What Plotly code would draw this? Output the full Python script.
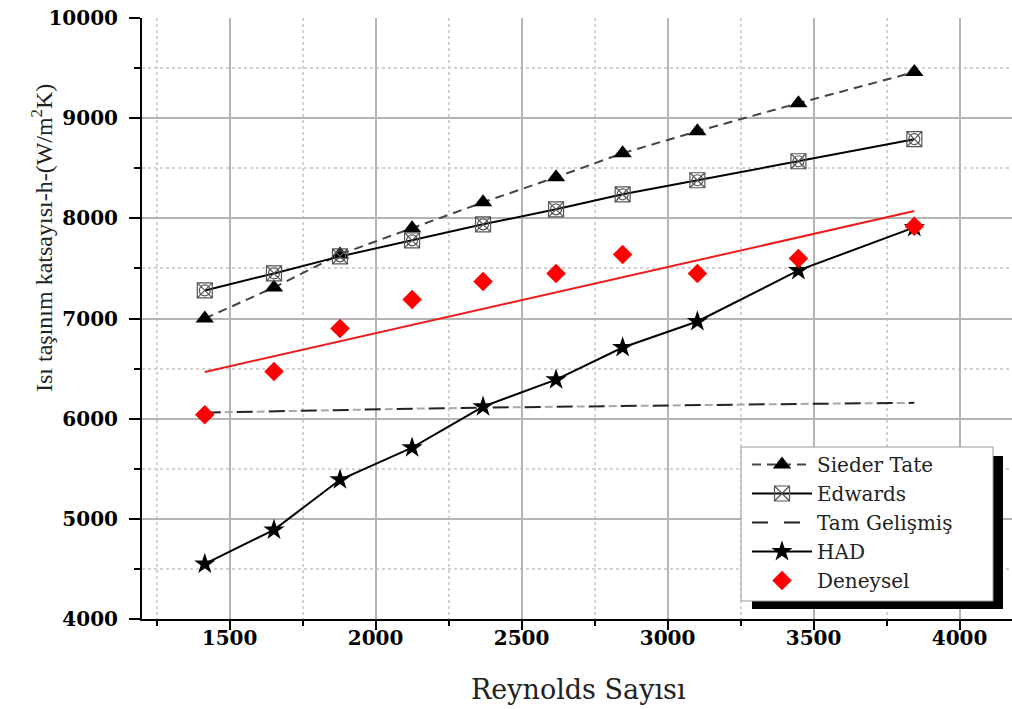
import numpy as np
import plotly.graph_objects as go

# Reynolds numbers of the measurement points
reynolds = [1415, 1652, 1878, 2125, 2368, 2618, 2846, 3102, 3448, 3845]

# Heat transfer coefficient h (W/m2K) for each correlation / method
sieder_tate = [7000, 7310, 7640, 7900, 8160, 8410, 8650, 8870, 9150, 9460]
edwards = [7280, 7450, 7620, 7780, 7940, 8090, 8240, 8380, 8570, 8790]
tam_gelismis = [6060, 6075, 6088, 6100, 6110, 6120, 6128, 6137, 6147, 6158]
had = [4550, 4890, 5390, 5710, 6120, 6390, 6710, 6970, 7480, 7910]
deneysel = [6040, 6470, 6900, 7190, 7370, 7450, 7640, 7450, 7600, 7920]

x_ticks = [1500, 2000, 2500, 3000, 3500, 4000]
x_tick_text = ["1500", "2000", "2500", "3000", "3500", "4000"]
y_ticks = [4000, 5000, 6000, 7000, 8000, 9000, 10000]
y_tick_text = ["4000", "5000", "6000", "7000", "8000", "9000", "10000"]

SERIF = "Liberation Serif"
WIDE_SERIF = "DejaVu Serif"

# Linear trend through the experimental points
slope, intercept = np.polyfit(reynolds, deneysel, 1)
trend_x = [reynolds[0], reynolds[-1]]
trend_y = [slope * v + intercept for v in trend_x]

fig = go.Figure()

fig.add_trace(go.Scatter(
    x=reynolds, y=sieder_tate, name="Sieder Tate", mode="lines+markers",
    line=dict(color="#444444", width=2, dash="9px,6px"),
    marker=dict(symbol="triangle-up", size=16, color="black"),
))

# Edwards: square with a circle and cross inside
fig.add_trace(go.Scatter(
    x=reynolds, y=edwards, name="Edwards", mode="lines+markers",
    line=dict(color="black", width=2),
    marker=dict(symbol="square-x-open", size=15, color="#555555",
                line=dict(width=1.2, color="#555555")),
))
fig.add_trace(go.Scatter(
    x=reynolds, y=edwards, mode="markers", showlegend=False, hoverinfo="skip",
    marker=dict(symbol="circle-open", size=11, color="#555555",
                line=dict(width=1.2, color="#555555")),
))

# Tam Gelişmiş: long dark dashes with a light short dash between them
fig.add_trace(go.Scatter(
    x=reynolds, y=tam_gelismis, mode="lines", showlegend=False, hoverinfo="skip",
    line=dict(color="#a8a8a8", width=2, dash="0px,20px,8px,4px"),
))
fig.add_trace(go.Scatter(
    x=reynolds, y=tam_gelismis, name="Tam Gelişmiş", mode="lines",
    line=dict(color="#222222", width=2, dash="16px,16px"),
))

fig.add_trace(go.Scatter(
    x=reynolds, y=had, name="HAD", mode="lines+markers",
    line=dict(color="black", width=2),
    marker=dict(symbol="star", size=16, color="black"),
))

fig.add_trace(go.Scatter(
    x=trend_x, y=trend_y, mode="lines", showlegend=False, hoverinfo="skip",
    line=dict(color="#ee1c1c", width=2),
))

fig.add_trace(go.Scatter(
    x=reynolds, y=deneysel, name="Deneysel", mode="markers",
    marker=dict(symbol="diamond", size=15, color="#ff0000"),
))

# Plot-area geometry (pixels) used to place the legend frame
L, T, W, H = 142, 18, 870, 601


def px(xp):
    return (xp - L) / W


def py(yp):
    return (T + H - yp) / H


shapes = [
    # drop shadow of the legend frame
    dict(type="rect", xref="paper", yref="paper", layer="above",
         x0=px(752), x1=px(1003), y0=py(609), y1=py(456),
         fillcolor="black", line=dict(width=0)),
    # legend frame
    dict(type="rect", xref="paper", yref="paper", layer="above",
         x0=px(741), x1=px(993), y0=py(601), y1=py(447),
         fillcolor="white", line=dict(color="#9a9a9a", width=1)),
]

annotations = [
    dict(text="Reynolds Sayısı", xref="paper", yref="paper",
         x=px(578), y=py(690), xanchor="center", yanchor="middle",
         showarrow=False, font=dict(family=WIDE_SERIF, size=27, color="#222222")),
    dict(text="Isı taşınım katsayısı-h-(W/m<sup>2</sup>K)", xref="paper", yref="paper",
         x=px(42), y=py(238), xanchor="center", yanchor="middle", textangle=-90,
         showarrow=False, font=dict(family=SERIF, size=24, color="#222222")),
]

tick_font = dict(family=WIDE_SERIF, size=20, color="black", weight="bold")

axis_common = dict(
    showline=True, linecolor="black", linewidth=2,
    ticks="outside", tickcolor="black", tickwidth=2,
    showgrid=True, gridcolor="#b4b4b4", gridwidth=1.5,
    zeroline=False,
    tickfont=tick_font,
)

fig.update_layout(
    width=1012, height=709,
    margin=dict(l=L, r=1012 - L - W, t=T, b=709 - T - H),
    paper_bgcolor="white", plot_bgcolor="white",
    showlegend=True,
    legend=dict(
        x=px(747), y=py(445), xanchor="left", yanchor="top",
        bgcolor="rgba(0,0,0,0)", borderwidth=0,
        font=dict(family=WIDE_SERIF, size=20, color="#222222"),
        itemwidth=60, tracegroupgap=0,
    ),
    xaxis=dict(
        range=[1200, 1200 + W / 0.292],
        tickvals=x_ticks, ticktext=[f"<b>{t}</b>" for t in x_tick_text],
        ticklen=9, ticklabelstandoff=-9,
        minor=dict(dtick=250, tick0=1250, ticks="outside", ticklen=5,
                   tickcolor="black", tickwidth=2,
                   showgrid=True, gridcolor="#d2d2d2", gridwidth=1.5,
                   griddash="dot"),
        **axis_common,
    ),
    xaxis2=dict(
        overlaying="x", matches="x", side="top", anchor="y",
        showline=True, linecolor="black", linewidth=2,
        ticks="inside", tickcolor="black", tickwidth=2, ticklen=7,
        tickvals=x_ticks, showticklabels=False, showgrid=False,
        zeroline=False,
    ),
    yaxis=dict(
        range=[4000, 10000],
        tickvals=y_ticks, ticktext=[f"<b>{t}</b>" for t in y_tick_text],
        ticklen=11, ticklabelstandoff=7,
        minor=dict(dtick=500, tick0=4500, ticks="outside", ticklen=6,
                   tickcolor="black", tickwidth=2,
                   showgrid=True, gridcolor="#d2d2d2", gridwidth=1.5,
                   griddash="dot"),
        **axis_common,
    ),
    shapes=shapes,
    annotations=annotations,
)

fig.write_html("out.html")
